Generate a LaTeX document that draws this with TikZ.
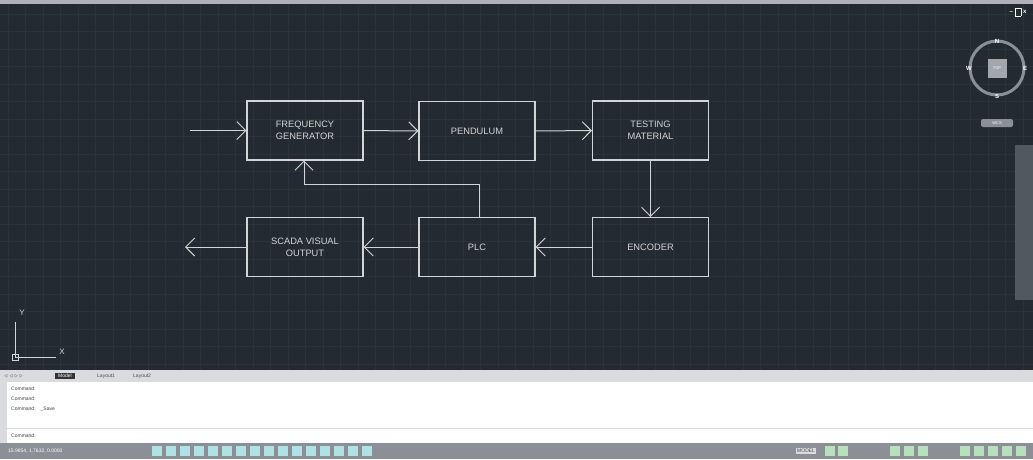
\documentclass[tikz,border=0pt]{standalone}
\usepackage{fontspec}
\setmainfont{Liberation Sans}
\usetikzlibrary{arrows.meta}
\definecolor{cadbg}{HTML}{232A32}
\definecolor{cadgrid}{HTML}{2A323B}
\definecolor{cadline}{HTML}{D4D4D4}
\definecolor{uigrey}{HTML}{8C9096}
\definecolor{tabgrey}{HTML}{D9DBDE}
\begin{document}
\begin{tikzpicture}[x=1pt,y=-1pt,>={Straight Barb[length=9pt,width=18pt]},
  block/.style={draw=cadline, line width=1.1pt, minimum width=116pt, minimum height=59pt, inner sep=0pt, align=center, text=cadline, font=\fontsize{9.3}{12}\selectfont},
  flow/.style={draw=cadline, line width=1pt, ->},
  uitext/.style={font=\fontsize{5}{6}\selectfont, inner sep=0pt, anchor=west}]
% drawing area
\fill[cadbg] (0,0) rectangle (1033,459);
\useasboundingbox (0,0) rectangle (1033,459);
\foreach \gx in {8,25.5,...,1033} \draw[cadgrid, line width=0.6pt] (\gx,5) -- (\gx,370);
\foreach \gy in {14,31.5,...,370} \draw[cadgrid, line width=0.6pt] (0,\gy) -- (1033,\gy);
\fill[uigrey!70] (0,0) rectangle (1033,4);

\node[block] (freq) at (305,130.5) {FREQUENCY\\GENERATOR};
\node[block] (pend) at (477,131) {PENDULUM};
\node[block] (test) at (650.5,130.5) {TESTING\\MATERIAL};
\node[block] (enc) at (650.5,247) {ENCODER};
\node[block] (plc) at (477,247) {PLC};
\node[block] (scada) at (305,247) {SCADA VISUAL\\OUTPUT};
\coordinate (in) at (190,130.5);
\coordinate (out) at (185,247);

\draw[flow] (in) -- (freq);
\draw[flow] (freq) -- (pend);
\draw[flow] (pend) -- (test);
\draw[flow] (test) -- (enc);
\draw[flow] (enc) -- (plc);
\draw[flow] (plc) -- (scada);
\draw[flow] (scada) -- (out);
\draw[flow] (plc.north -| 479,0) -- (479,184) -| (freq.south -| 304,0);

% view cube and navigation bar
\draw[uigrey, line width=3pt] (997,68) circle (27);
\node[fill=uigrey!80, minimum size=19pt, inner sep=0pt, font=\fontsize{4}{4}\selectfont, text=white] (top) at (997,68) {TOP};
\node[font=\fontsize{6}{6}\selectfont\bfseries, text=white] (nn) at (997,41) {N};
\node[font=\fontsize{6}{6}\selectfont\bfseries, text=white] (ss) at (997,96) {S};
\node[font=\fontsize{6}{6}\selectfont\bfseries, text=white] (ww) at (969,68) {W};
\node[font=\fontsize{6}{6}\selectfont\bfseries, text=white] (ee) at (1025,68) {E};
\node[fill=uigrey, rounded corners=2pt, minimum width=32pt, minimum height=8pt, inner sep=0pt, font=\fontsize{4}{4}\selectfont, text=white] (wcs) at (997,123) {WCS};
\node[font=\fontsize{6}{6}\selectfont\bfseries, text=white] (winbtn) at (1018,12) {\textendash\ \raisebox{0.3ex}{\fbox{\rule{0pt}{2pt}}}\ x};
\fill[uigrey!45!cadbg] (1015,145) rectangle (1033,300);

% UCS icon
\draw[cadline, line width=0.8pt] (15,322) -- (15,357) -- (56,357);
\draw[cadline, line width=0.8pt] (12,354) rectangle (18,360);
\node[text=cadline, font=\fontsize{8}{8}\selectfont] (yy) at (22,313) {Y};
\node[text=cadline, font=\fontsize{8}{8}\selectfont] (xx) at (62,352) {X};

% tabs, command line, status bar
\fill[tabgrey] (0,370) rectangle (1033,382);
\node[uitext, text=black!70] (nav) at (4,376) {$\triangleleft$ $\triangleleft$ $\triangleright$ $\triangleright$};
\node[uitext, fill=black!80, text=white, inner xsep=3pt, inner ysep=1.5pt] (model) at (55,376) {Model};
\node[uitext, text=black!70] (lay1) at (97,376) {Layout1};
\node[uitext, text=black!70] (lay2) at (133,376) {Layout2};
\fill[white] (0,382) rectangle (1033,443);
\fill[tabgrey] (0,382) rectangle (7,443);
\draw[tabgrey, line width=0.8pt] (7,428) -- (1033,428);
\node[uitext, text=black!75] (cmd1) at (11,389) {Command:};
\node[uitext, text=black!75] (cmd2) at (11,399) {Command:};
\node[uitext, text=black!75] (cmd3) at (11,409) {Command:\quad\_Save};
\node[uitext, text=black!75] (cmd4) at (11,436) {Command:};
\fill[uigrey] (0,443) rectangle (1033,459);
\node[uitext, text=white] (coords) at (8,451) {15.9854, 1.7632, 0.0000};
\foreach \ix in {152,166,...,362} \fill[tabgrey!80!cyan] (\ix,446) rectangle ++(10,10);
\node[uitext, fill=tabgrey, text=black!70, inner sep=1pt] (mdl) at (796,451) {MODEL};
\foreach \ix in {825,838,890,904,918,960,974,988,1002,1016} \fill[tabgrey!85!green] (\ix,446) rectangle ++(10,10);
\end{tikzpicture}
\end{document}
